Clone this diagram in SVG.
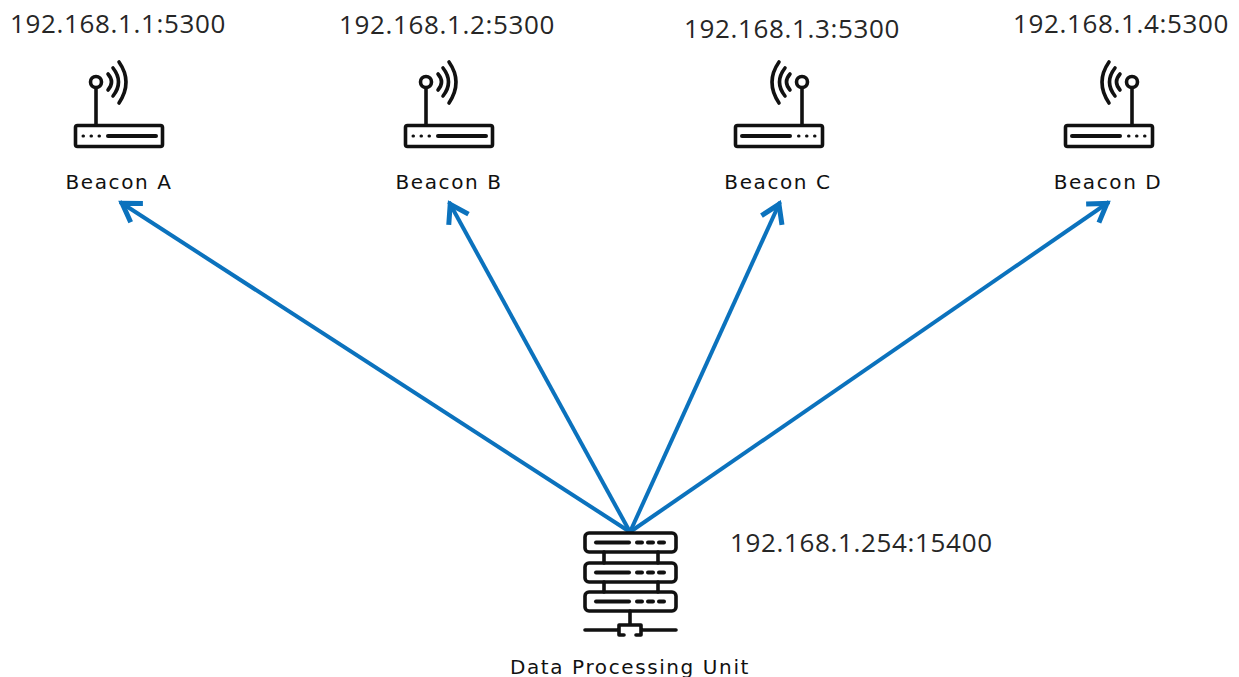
<svg xmlns="http://www.w3.org/2000/svg" width="1239" height="677" viewBox="0 0 1239 677">
<style>
.ip{font-family:"Open Sans","Liberation Sans",sans-serif;font-size:26px;letter-spacing:.65px;fill:#262626}
.lb{font-family:"DejaVu Sans",sans-serif;font-size:20px;letter-spacing:1.6px;fill:#111;text-anchor:middle}
.ic{fill:none;stroke:#111;stroke-width:3.6;stroke-linecap:round;stroke-linejoin:round}
.c{fill:none;stroke:#0b72bd;stroke-width:4;marker-end:url(#a)}
</style>
<defs>
<marker id="a" markerUnits="userSpaceOnUse" markerWidth="30" markerHeight="30" refX="21" refY="12" orient="auto" viewBox="0 0 24 24"><path d="M5 3L19 12L5 21" fill="none" stroke="#0b72bd" stroke-width="4"/></marker>
<g id="router" class="ic">
<rect x="75.500" y="125.500" width="87" height="21" rx="2"/>
<circle cx="96" cy="82" r="5.500"/>
<path d="M96 88V125"/>
<path d="M108 74Q115 82 108 90M113 68Q124 82 113 96M119 62Q133 82 119 103"/>
<path d="M108 136H156" stroke-width="4"/>
<path d="M83 136H83.500M91 136H91.500M99 136H99.500" stroke-width="3"/>
</g>
<g id="rack"><rect x="585" y="533" width="91" height="19" rx="4"/><path d="M596 542.500H629" stroke-width="4"/><path d="M637 542.500H642M648 542.500H653M659 542.500H664" stroke-width="4"/></g>
</defs>
<g id="connectors">
<path class="c" d="M630 532L120 202"/>
<path class="c" d="M630 532L449 202"/>
<path class="c" d="M630 532L780 202"/>
<path class="c" d="M630 532L1109 202"/>
</g>
<g id="beacon-a"><use href="#router"/><text class="ip" x="10" y="33">192.168.1.1:5300</text><text class="lb" x="119" y="189">Beacon A</text></g>
<g id="beacon-b"><use href="#router" x="330"/><text class="ip" x="339" y="34">192.168.1.2:5300</text><text class="lb" x="449" y="189">Beacon B</text></g>
<g id="beacon-c"><use href="#router" transform="matrix(-1 0 0 1 898 0)"/><text class="ip" x="684" y="38">192.168.1.3:5300</text><text class="lb" x="778" y="189">Beacon C</text></g>
<g id="beacon-d"><use href="#router" transform="matrix(-1 0 0 1 1228 0)"/><text class="ip" x="1013" y="33">192.168.1.4:5300</text><text class="lb" x="1108" y="189">Beacon D</text></g>
<g id="data-processing-unit">
<g class="ic"><use href="#rack"/><use href="#rack" y="30"/><use href="#rack" y="59"/>
<path d="M604 552V563M658 552V563M604 582V592M658 582V592M630 611V625M585 630H617M643 630H676M619 635V625H641V635H636M624 635H619"/></g>
<text class="ip" x="730" y="552">192.168.1.254:15400</text>
<text class="lb" x="630" y="674">Data Processing Unit</text>
</g>
</svg>
